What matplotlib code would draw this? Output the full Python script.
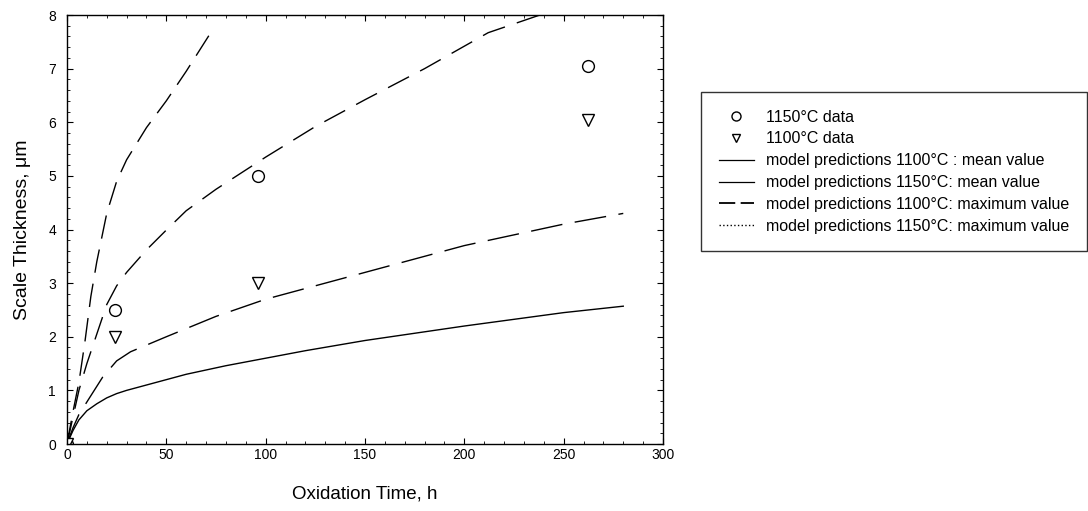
import matplotlib
matplotlib.use("Agg")
import matplotlib.pyplot as plt
from matplotlib.ticker import MultipleLocator
from matplotlib.lines import Line2D

plt.rcParams['font.family'] = ['Liberation Sans', 'DejaVu Sans']

# measured data
t_data = [0, 24, 96, 262]
d1150 = [0, 2.5, 5.0, 7.05]
d1100 = [0, 2.0, 3.0, 6.05]

# 1100C mean (solid)
t_m1100 = [0, 3, 6, 10, 15, 20, 25, 30, 40, 50, 60, 80, 100, 120, 150, 200, 250, 280]
y_m1100 = [0, 0.25, 0.45, 0.62, 0.75, 0.86, 0.94, 1.0, 1.1, 1.2, 1.3, 1.46, 1.6, 1.74, 1.93, 2.2, 2.45, 2.57]

# 1100C max (dashed, lower)
t_x1100 = [0, 3, 6, 12, 18, 25, 32, 50, 75, 100, 150, 200, 250, 280]
y_x1100 = [0, 0.3, 0.55, 0.9, 1.25, 1.55, 1.72, 2.0, 2.38, 2.7, 3.2, 3.7, 4.1, 4.3]

# 1150C mean (dashed, upper long curve)
t_m1150 = [0, 3, 6, 10, 15, 20, 25, 30, 40, 50, 60, 75, 100, 125, 150, 180, 212, 242]
y_m1150 = [0, 0.5, 1.0, 1.5, 2.05, 2.6, 2.95, 3.2, 3.62, 3.99, 4.35, 4.75, 5.35, 5.92, 6.42, 7.0, 7.67, 8.05]

# 1150C max (steep dashed)
t_x1150 = [0, 3, 6, 9, 12, 15, 20, 25, 30, 40, 50, 60, 72]
y_x1150 = [0, 0.6, 1.15, 1.9, 2.75, 3.4, 4.3, 4.9, 5.3, 5.9, 6.4, 6.95, 7.65]

fig = plt.figure(figsize=(10.88, 5.11), dpi=100)
ax = fig.add_axes([67 / 1088, 1 - 444 / 511, (663 - 67) / 1088, (444 - 15) / 511])

ax.plot(t_m1100, y_m1100, color='black', lw=1.0)
ax.plot(t_x1100, y_x1100, color='black', lw=1.0, dashes=(23, 9))
ax.plot(t_m1150, y_m1150, color='black', lw=1.0, dashes=(17, 9))
ax.plot(t_x1150, y_x1150, color='black', lw=1.0, dashes=(17, 8))

ax.plot(t_data, d1150, 'o', mfc='white', mec='black', ms=8.5, mew=1.0, ls='none')
ax.plot(t_data, d1100, 'v', mfc='white', mec='black', ms=8, mew=1.0, ls='none')

ax.set_xlim(0, 300)
ax.set_ylim(0, 8)
ax.xaxis.set_major_locator(MultipleLocator(50))
ax.xaxis.set_minor_locator(MultipleLocator(10))
ax.yaxis.set_major_locator(MultipleLocator(1))
ax.yaxis.set_minor_locator(MultipleLocator(0.2))
ax.tick_params(which='both', direction='in', top=True, right=True, labelsize=10)
ax.tick_params(axis='x', pad=3)
ax.tick_params(axis='y', pad=8)
ax.tick_params(which='major', length=4.5)
ax.tick_params(which='minor', length=2.5)
for s in ax.spines.values():
    s.set_linewidth(1.0)

ax.set_xlabel("Oxidation Time, h", fontsize=13.5, labelpad=17)
ax.set_ylabel("Scale Thickness, \u03bcm", fontsize=14, labelpad=12)

handles = [
    Line2D([], [], marker='o', ls='none', mfc='white', mec='black', ms=6.5, mew=1.0),
    Line2D([], [], marker='v', ls='none', mfc='white', mec='black', ms=6, mew=1.0),
    Line2D([], [], color='black', lw=0.9),
    Line2D([], [], color='black', lw=0.9),
    Line2D([], [], color='black', lw=1.3, dashes=(9, 3)),
    Line2D([], [], color='black', lw=1.0, ls=':'),
]
labels = [
    "1150\u00b0C data",
    "1100\u00b0C data",
    "model predictions 1100\u00b0C : mean value",
    "model predictions 1150\u00b0C: mean value",
    "model predictions 1100\u00b0C: maximum value",
    "model predictions 1150\u00b0C: maximum value",
]
leg = fig.legend(handles, labels, loc='upper left', bbox_to_anchor=(701 / 1088, 1 - 92 / 511),
                 fontsize=11.5, frameon=True, fancybox=False, edgecolor='black',
                 handlelength=2.2, handletextpad=0.75, labelspacing=0.43,
                 borderpad=1.1, borderaxespad=0)
leg.get_frame().set_linewidth(1.0)

fig.savefig("out.png", dpi=100)
